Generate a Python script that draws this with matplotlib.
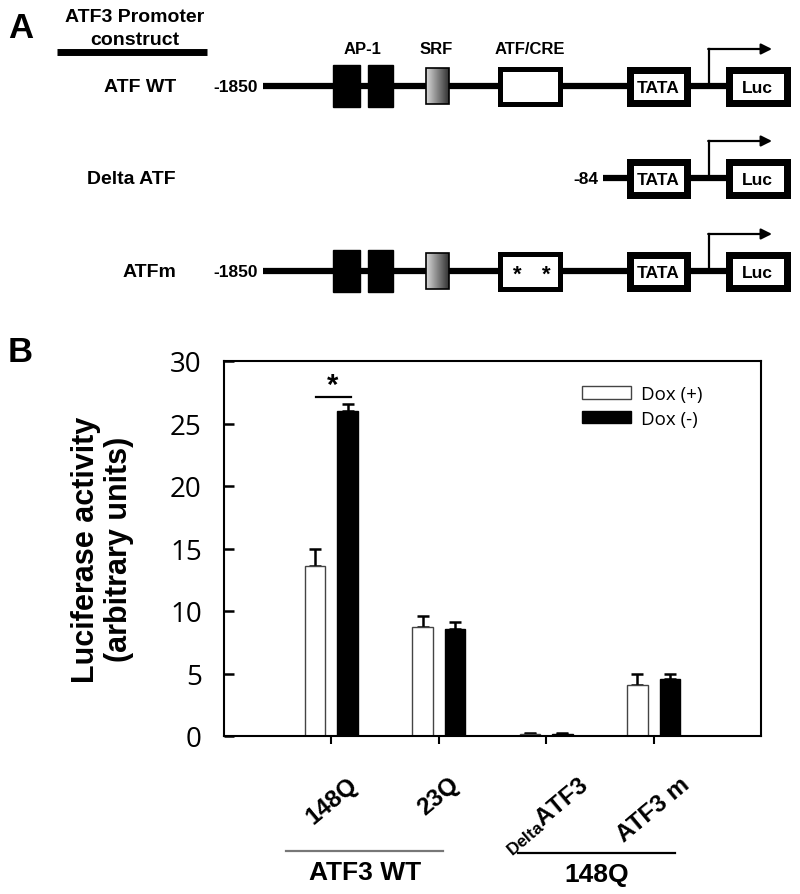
import numpy as np
import matplotlib
matplotlib.use("Agg")
import matplotlib.pyplot as plt
from matplotlib.patches import Rectangle
from matplotlib import transforms

plt.rcParams["font.family"] = ["Liberation Sans", "DejaVu Sans"]
plt.rcParams["mathtext.fontset"] = "custom"
plt.rcParams["mathtext.rm"] = "Liberation Sans:bold"

# === Panel B data ===
tick_labels = ["148Q", "23Q", r"$\mathrm{_{Delta}}$ATF3", "ATF3 m"]
dox_plus = [13.6, 8.7, 0.2, 4.1]
dox_plus_err = [1.4, 0.9, 0.05, 0.9]
dox_minus = [26.0, 8.55, 0.2, 4.6]
dox_minus_err = [0.6, 0.55, 0.05, 0.4]
series_names = ["Dox (+)", "Dox (-)"]
group_names = ["ATF3 WT", "148Q"]
group_spans = [(0.58, 2.04), (2.74, 4.2)]
group_colors = ["#777777", "black"]

# === Panel A schematic (pixel layout) ===
constructs = ["ATF WT", "Delta ATF", "ATFm"]
start_labels = ["-1850", "-84", "-1850"]
line_start = [263, 603, 263]
row_y = [87, 179, 272]
has_upstream = [True, False, True]
mutated = [False, False, True]
ap1_boxes = [(333, 360), (368, 393)]
srf_box = (426, 449)
cre_box = (497, 562)
tata_box = (626, 690)
luc_box = (725, 790)
arrow_x, arrow_end, arrow_rise = 709, 772, 37
element_labels = ["AP-1", "SRF", "ATF/CRE"]
element_label_x = [363, 436, 530]

fig = plt.figure(figsize=(8, 8.95), dpi=100)

ax_a = fig.add_axes([0, 0, 1, 1])
ax_a.axis("off")


def frame_box(ax, x0, x1, yc, half, border, text=None):
    b = border
    ax.add_patch(Rectangle((x0 + b / 2, yc - half + b / 2), x1 - x0 - b, 2 * half - b,
                           facecolor="white", edgecolor="black", lw=b * 0.72, zorder=3))
    if text:
        ax.text((x0 + x1) / 2, yc + 1, text, ha="center", va="center",
                fontsize=12.5, fontweight="bold", zorder=4)


for i, name in enumerate(constructs):
    y = row_y[i]
    ax_a.text(176, y, name, ha="right", va="center", fontsize=14, fontweight="bold")
    ax_a.text(line_start[i] - 5, y, start_labels[i], ha="right", va="center",
              fontsize=12.5, fontweight="bold")
    ax_a.plot([line_start[i], luc_box[0] + 2], [y, y], color="black", lw=4.5,
              solid_capstyle="butt", zorder=2)
    if has_upstream[i]:
        for x0, x1 in ap1_boxes:
            ax_a.add_patch(Rectangle((x0, y - 21), x1 - x0, 42, color="black", zorder=3))
        ax_a.imshow(np.linspace(0.85, 0.2, 60)[None, :], cmap="gray", vmin=0, vmax=1,
                    extent=(srf_box[0], srf_box[1], y + 18, y - 18), aspect="auto", zorder=3)
        ax_a.add_patch(Rectangle((srf_box[0], y - 18), srf_box[1] - srf_box[0], 36,
                                 fill=False, edgecolor="black", lw=1.2, zorder=4))
        frame_box(ax_a, cre_box[0], cre_box[1], y, 20, 5)
        if mutated[i]:
            for sx in (517, 546):
                ax_a.text(sx, y + 3, "*", ha="center", va="center", fontsize=16, fontweight="bold", zorder=4)
    frame_box(ax_a, tata_box[0], tata_box[1], y, 20, 7, "TATA")
    frame_box(ax_a, luc_box[0], luc_box[1], y, 20, 7, "Luc")
    ax_a.plot([arrow_x, arrow_x], [y, y - arrow_rise], color="black", lw=1.6, zorder=2)
    ax_a.annotate("", xy=(arrow_end, y - arrow_rise), xytext=(arrow_x - 0.8, y - arrow_rise),
                  arrowprops=dict(arrowstyle="-|>", color="black", lw=1.6,
                                  mutation_scale=16, shrinkA=0, shrinkB=0))

for lab, lx in zip(element_labels, element_label_x):
    ax_a.text(lx, 49, lab, ha="center", va="center", fontsize=12, fontweight="bold")

ax_a.text(135, 17, "ATF3 Promoter", ha="center", va="center", fontsize=14, fontweight="bold")
ax_a.text(135, 40, "construct", ha="center", va="center", fontsize=14, fontweight="bold")
ax_a.plot([57, 207], [53, 53], color="black", lw=5, solid_capstyle="butt")
ax_a.set_xlim(0, 800)
ax_a.set_ylim(895, 0)

fig.text(21 / 800, 1 - 29 / 895, "A", ha="center", va="center", fontsize=25, fontweight="bold")
fig.text(20 / 800, 1 - 352 / 895, "B", ha="center", va="center", fontsize=25, fontweight="bold")

# === Panel B ===
ax = fig.add_axes([224 / 800, 1 - 737 / 895, 537 / 800, 375 / 895])
x = np.arange(1, len(tick_labels) + 1)
off, w = 0.15, 0.19
ax.bar(x - off, dox_plus, w, color="white", edgecolor="#444444", lw=1, label=series_names[0], zorder=2)
ax.bar(x + off, dox_minus, w, color="black", edgecolor="black", lw=1, label=series_names[1], zorder=2)
ax.errorbar(x - off, dox_plus, yerr=[np.zeros(len(x)), dox_plus_err], fmt="none",
            ecolor="black", elinewidth=1.8, capsize=4.5, capthick=1.8, zorder=1)
ax.errorbar(x + off, dox_minus, yerr=[np.zeros(len(x)), dox_minus_err], fmt="none",
            ecolor="black", elinewidth=1.8, capsize=4.5, capthick=1.8, zorder=1)

# significance mark over 148Q
ax.plot([x[0] - off + 0.01, x[0] + off + 0.03], [27.1, 27.1], color="black", lw=1.6)
ax.text(x[0] + 0.01, 26.95, "*", ha="center", va="bottom", fontsize=21, fontweight="bold")

ax.set_xlim(0, 5)
ax.set_ylim(0, 30)
ax.set_yticks(range(0, 31, 5))
ax.set_xticks(x)
ax.set_xticklabels(tick_labels, rotation=40, ha="center", va="top",
                   fontsize=17.5, fontweight="bold")
label_shift = [2, -27, -21, -14]
for lbl, dx in zip(ax.get_xticklabels(), label_shift):
    lbl.set_transform(lbl.get_transform() + transforms.ScaledTranslation(dx / 100, 0, fig.dpi_scale_trans))
ax.tick_params(axis="y", direction="in", length=7, width=1.8, labelsize=20, pad=16,
               labelfontfamily="Open Sans")
ax.tick_params(axis="x", direction="out", length=6, width=1.5, pad=20)
for s in ax.spines.values():
    s.set_linewidth(1.5)

ax.set_ylabel("Luciferase activity\n(arbitrary units)", fontsize=22, fontweight="bold", linespacing=1.1)
ax.yaxis.set_label_coords(-0.168, 0.5)

ax.legend(loc="upper left", bbox_to_anchor=(0.667, 0.936), frameon=False,
          prop=dict(family="Open Sans", size=13.5), handlelength=2.6, handleheight=0.65,
          labelspacing=0.35, handletextpad=0.55, borderpad=0, borderaxespad=0)

trans = transforms.blended_transform_factory(ax.transData, ax.transAxes)
for (g0, g1), gname, gcol, gy in zip(group_spans, group_names, group_colors, [-0.307, -0.312]):
    ax.plot([g0, g1], [gy, gy], color=gcol, lw=1.6, transform=trans, clip_on=False)
    ax.text((g0 + g1) / 2, gy - 0.057, gname, ha="center", va="center", fontsize=19,
            fontweight="bold", transform=trans)

fig.savefig("out.png", dpi=100)
